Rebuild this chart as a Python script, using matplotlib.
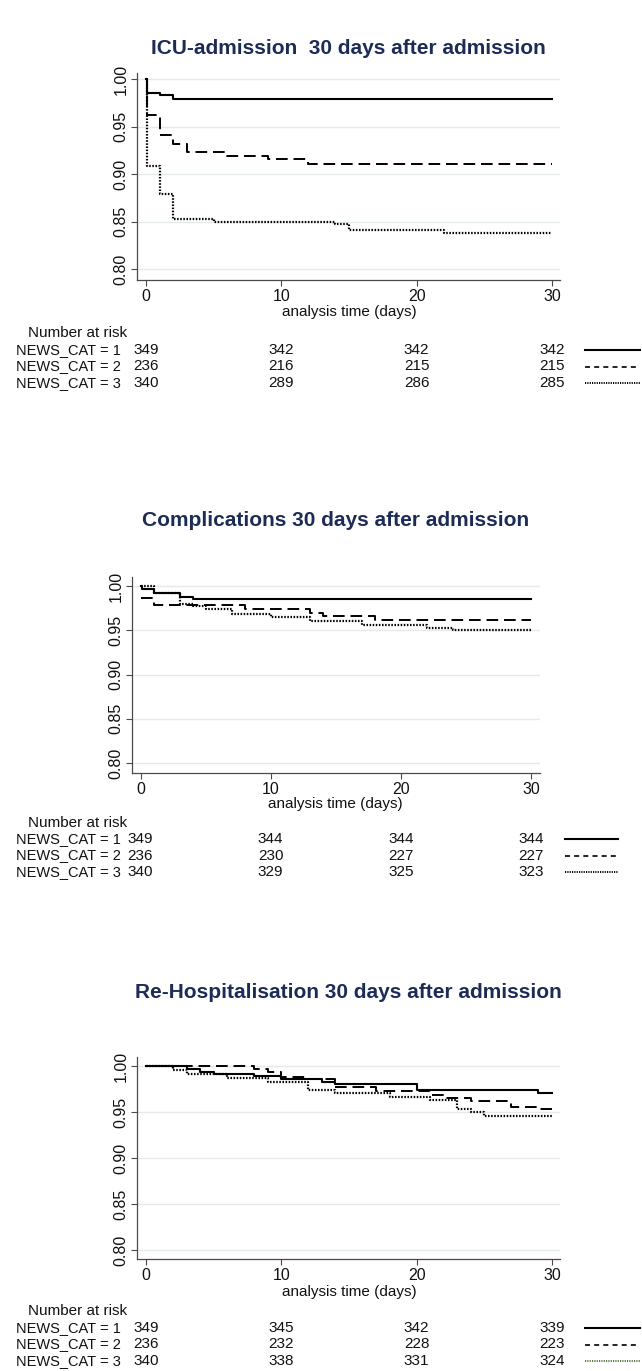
import matplotlib
matplotlib.use("Agg")
import matplotlib.pyplot as plt
import matplotlib.transforms as mtransforms
from matplotlib.lines import Line2D

W, H, DPI = 642, 1371, 100

# ---------------- data ----------------
groups = ["NEWS_CAT = 1", "NEWS_CAT = 2", "NEWS_CAT = 3"]
risk_times = [0, 10, 20, 30]
x_ticks = [0, 10, 20, 30]
y_ticks = [0.80, 0.85, 0.90, 0.95, 1.00]

titles = ["ICU-admission  30 days after admission",
          "Complications 30 days after admission",
          "Re-Hospitalisation 30 days after admission"]

# ICU-admission
icu_t1 = [0, 0.1, 1, 2, 30]
icu_s1 = [1.0, 0.985, 0.983, 0.979, 0.979]
icu_t2 = [0, 0.1, 1, 2, 3, 6, 9, 12, 30]
icu_s2 = [1.0, 0.9625, 0.941, 0.932, 0.9235, 0.919, 0.9155, 0.9105, 0.9105]
icu_t3 = [0, 0.1, 1, 2, 5, 14, 15, 22, 30]
icu_s3 = [1.0, 0.908, 0.879, 0.853, 0.849, 0.8475, 0.841, 0.838, 0.838]
icu_risk = [[349, 342, 342, 342], [236, 216, 215, 215], [340, 289, 286, 285]]

# Complications
comp_t1 = [0, 0.1, 1, 3, 4, 30]
comp_s1 = [1.0, 0.997, 0.992, 0.988, 0.985, 0.985]
comp_t2 = [0, 1, 8, 13, 14, 18, 30]
comp_s2 = [0.987, 0.979, 0.9745, 0.970, 0.966, 0.9613, 0.9613]
comp_t3 = [0, 1, 3, 4, 5, 7, 10, 13, 14, 17, 22, 24, 30]
comp_s3 = [1.0, 0.992, 0.980, 0.9775, 0.9737, 0.968, 0.965, 0.961, 0.960,
           0.9556, 0.953, 0.9504, 0.9504]
comp_risk = [[349, 344, 344, 344], [236, 230, 227, 227], [340, 329, 325, 323]]

# Re-Hospitalisation
reh_t1 = [0, 3, 4, 5, 8, 10, 13, 14, 20, 29, 30]
reh_s1 = [1.0, 0.997, 0.9936, 0.991, 0.9886, 0.986, 0.983, 0.980, 0.974,
          0.971, 0.971]
reh_t2 = [0, 8, 9, 10, 12, 14, 17, 21, 22, 24, 27, 29, 30]
reh_s2 = [1.0, 0.9968, 0.994, 0.988, 0.986, 0.9768, 0.973, 0.968, 0.965,
          0.962, 0.9554, 0.953, 0.953]
reh_t3 = [0, 2, 3, 6, 9, 12, 14, 18, 21, 23, 24, 25, 30]
reh_s3 = [1.0, 0.9957, 0.991, 0.9875, 0.983, 0.974, 0.9707, 0.966, 0.963,
          0.9536, 0.950, 0.9457, 0.9457]
reh_risk = [[349, 345, 342, 339], [236, 232, 228, 223], [340, 338, 331, 324]]

panels = [
    (titles[0], [(icu_t1, icu_s1), (icu_t2, icu_s2), (icu_t3, icu_s3)], icu_risk),
    (titles[1], [(comp_t1, comp_s1), (comp_t2, comp_s2), (comp_t3, comp_s3)], comp_risk),
    (titles[2], [(reh_t1, reh_s1), (reh_t2, reh_s2), (reh_t3, reh_s3)], reh_risk),
]

# ---------------- layout (pixels) ----------------
layouts = [
    dict(l=137, r=560, t=73, b=280, x0=146, x30=552, y1=79, y8=269,
         title=48, xlab=312, nar=333, row0=350, legx=(585, 640)),
    dict(l=132, r=540, t=577, b=773, x0=140.5, x30=531, y1=586, y8=763,
         title=520, xlab=804, nar=823, row0=839, legx=(565, 618)),
    dict(l=137, r=560, t=1057, b=1259, x0=146, x30=552, y1=1066, y8=1250,
         title=992, xlab=1292, nar=1311, row0=1328, legx=(585, 640)),
]
row_step = 16.5

plt.rcParams["font.family"] = ["Liberation Sans", "DejaVu Sans"]
FS = 11
FS_ROW = 10.5

styles = [dict(ls="-", lw=1.5), dict(ls=(0, (6, 3)), lw=1.4), dict(ls=(0, (0.7, 0.7)), lw=1.6)]
leg_styles = [dict(ls="-", lw=1.5), dict(ls=(0, (3, 2.5)), lw=1.2), dict(ls=(0, (0.6, 0.6)), lw=1.4)]
leg_colors = [["black", "black", "black"], ["black", "black", "black"], ["black", "black", "#4f7a3f"]]

fig = plt.figure(figsize=(W / DPI, H / DPI), dpi=DPI)
fig.patch.set_facecolor("white")


def fy(y):
    return 1 - y / H


for i, (title, curves, risk) in enumerate(panels):
    L = layouts[i]
    ax = fig.add_axes([L["l"] / W, fy(L["b"]), (L["r"] - L["l"]) / W, (L["b"] - L["t"]) / H])
    ppd = (L["x30"] - L["x0"]) / 30.0
    ppu = (L["y8"] - L["y1"]) / 0.2
    ax.set_xlim(-(L["x0"] - L["l"]) / ppd, 30 + (L["r"] - L["x30"]) / ppd)
    ax.set_ylim(0.80 - (L["b"] - L["y8"]) / ppu, 1.00 + (L["y1"] - L["t"]) / ppu)

    for (t, s), st in zip(curves, styles):
        ax.step(t, s, where="post", color="black", zorder=3, **st)

    ax.set_xticks(x_ticks)
    ax.set_yticks(y_ticks)
    ax.set_yticklabels(["%.2f" % v for v in y_ticks])
    ax.grid(axis="y", color="#e3eaee", lw=1.0, zorder=0)
    for side in ["top", "right"]:
        ax.spines[side].set_visible(False)
    for side in ["left", "bottom"]:
        ax.spines[side].set_color("#4a4a4a")
        ax.spines[side].set_linewidth(0.9)
    ax.tick_params(axis="both", length=4, width=0.8, color="#4a4a4a",
                   labelsize=FS + 0.5, labelcolor="#111111")
    ax.tick_params(axis="x", pad=2.5)
    ax.tick_params(axis="y", pad=2)
    plt.setp(ax.get_yticklabels(), rotation=90, va="center")

    cx = (L["l"] + L["r"]) / 2
    fig.text(cx / W, fy(L["title"]), title, ha="center", va="center",
             fontsize=15, fontweight="bold", color="#1d2b57")
    fig.text((L["x0"] + L["x30"]) / 2 / W, fy(L["xlab"]), "analysis time (days)",
             ha="center", va="center", fontsize=FS, color="#111111")
    fig.text(28 / W, fy(L["nar"]), "Number at risk", ha="left", va="center",
             fontsize=FS, color="#111111")

    trans = mtransforms.blended_transform_factory(ax.transData, fig.transFigure)
    for g in range(3):
        yy = L["row0"] + g * row_step
        fig.text(16 / W, fy(yy), groups[g], ha="left", va="center",
                 fontsize=FS_ROW, color="#111111")
        for tt, n in zip(risk_times, risk[g]):
            ax.text(tt, fy(yy), str(n), transform=trans, ha="center", va="center",
                    fontsize=FS, color="#111111", clip_on=False)
        x_a, x_b = L["legx"]
        fig.add_artist(Line2D([x_a / W, x_b / W], [fy(yy), fy(yy)],
                              color=leg_colors[i][g], **leg_styles[g]))

fig.savefig("out.png", dpi=DPI, facecolor="white")
